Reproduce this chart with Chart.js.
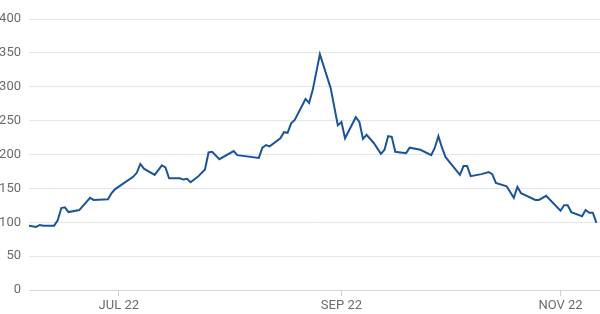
<!DOCTYPE html>
<html>
<head>
<meta charset="utf-8">
<script src="https://cdn.jsdelivr.net/npm/chart.js@4/dist/chart.umd.min.js"></script>
<style>
  html, body { margin: 0; padding: 0; background: #fff; }
  #wrap { width: 600px; height: 314px; }
</style>
</head>
<body>
<div id="wrap"><canvas id="priceline"></canvas></div>
<script>
const dates = [
  "2022-06-06","2022-06-08","2022-06-09","2022-06-10","2022-06-13","2022-06-14","2022-06-15","2022-06-16","2022-06-17","2022-06-20",
  "2022-06-23","2022-06-24","2022-06-28","2022-06-29","2022-06-30","2022-07-05","2022-07-06","2022-07-07","2022-07-08","2022-07-11",
  "2022-07-13","2022-07-14","2022-07-15","2022-07-18","2022-07-19","2022-07-20","2022-07-21","2022-07-23","2022-07-25","2022-07-26",
  "2022-07-27","2022-07-29","2022-08-02","2022-08-03","2022-08-09","2022-08-10","2022-08-11","2022-08-12","2022-08-15","2022-08-16",
  "2022-08-17","2022-08-18","2022-08-19","2022-08-22","2022-08-23","2022-08-24","2022-08-26","2022-08-29","2022-08-31","2022-09-01",
  "2022-09-02","2022-09-05","2022-09-06","2022-09-07","2022-09-08","2022-09-10","2022-09-12","2022-09-13","2022-09-14","2022-09-15",
  "2022-09-16","2022-09-19","2022-09-20","2022-09-23","2022-09-26","2022-09-27","2022-09-28","2022-09-29","2022-09-30","2022-10-04",
  "2022-10-05","2022-10-06","2022-10-07","2022-10-10","2022-10-12","2022-10-13","2022-10-14","2022-10-17","2022-10-19","2022-10-20",
  "2022-10-21","2022-10-25","2022-10-26","2022-10-28","2022-11-01","2022-11-02","2022-11-03","2022-11-04","2022-11-07","2022-11-08",
  "2022-11-09","2022-11-10","2022-11-11"
];
const values = [
  95, 93, 96, 95, 95, 103, 121, 122, 115, 118,
  136, 133, 134, 143, 149, 167, 173, 186, 179, 170,
  184, 181, 165, 165, 163, 164, 159, 167, 178, 203,
  204, 193, 205, 199, 195, 210, 214, 212, 224, 233,
  232, 246, 251, 282, 276, 295, 348, 298, 243, 248,
  224, 255, 248, 223, 229, 217, 201, 207, 227, 226,
  204, 202, 210, 207, 199, 210, 227, 210, 196, 170,
  183, 183, 168, 171, 174, 171, 158, 153, 136, 152,
  143, 133, 133, 139, 117, 125, 125, 115, 109, 118,
  114, 114, 99
];
const tickDates = ["2022-07-01", "2022-09-01", "2022-11-01"];
const tickLabels = ["JUL 22", "SEP 22", "NOV 22"];
const xMinDate = "2022-06-06";
const xMaxDate = "2022-11-12";

// day number since 2022-06-01
function dayNum(s) {
  return Math.round((Date.parse(s + "T00:00:00Z") - Date.UTC(2022, 5, 1)) / 86400000);
}

const points = dates.map((d, i) => ({ x: dayNum(d), y: values[i] }));
const tickDays = tickDates.map(dayNum);

Chart.defaults.font.family = "Roboto, 'Noto Sans', sans-serif";
Chart.defaults.font.size = 13;
Chart.defaults.color = "#6b6b6b";

new Chart(document.getElementById("priceline"), {
  type: 'line',
  data: {
    datasets: [{
      data: points,
      borderColor: "#1c5596",
      borderWidth: 2,
      pointRadius: 0,
      tension: 0,
      fill: false
    }]
  },
  options: {
    responsive: true,
    maintainAspectRatio: false,
    animation: false,
    layout: { padding: { top: 19, right: 0, left: 0, bottom: 0 } },
    plugins: {
      legend: { display: false },
      tooltip: { enabled: false }
    },
    scales: {
      x: {
        type: 'linear',
        min: dayNum(xMinDate),
        max: dayNum(xMaxDate),
        afterBuildTicks: (scale) => { scale.ticks = tickDays.map(v => ({ value: v })); },
        afterFit: (scale) => { scale.height = 24; },
        grid: {
          drawOnChartArea: false,
          drawTicks: true,
          tickLength: 6,
          color: "#cfcfcf"
        },
        border: { display: false },
        ticks: {
          autoSkip: false,
          maxRotation: 0,
          padding: 2,
          callback: (v) => {
            const i = tickDays.indexOf(v);
            return i >= 0 ? tickLabels[i] : "";
          }
        }
      },
      y: {
        min: 0,
        max: 400,
        afterFit: (scale) => { scale.width = 29; },
        grid: {
          drawTicks: false,
          color: (ctx) => ctx.tick && ctx.tick.value === 0 ? "#d6d6d6" : "#e6e6e6",
          lineWidth: 1
        },
        border: { display: false },
        ticks: {
          stepSize: 50,
          padding: 8
        }
      }
    }
  }
});
</script>
</body>
</html>
